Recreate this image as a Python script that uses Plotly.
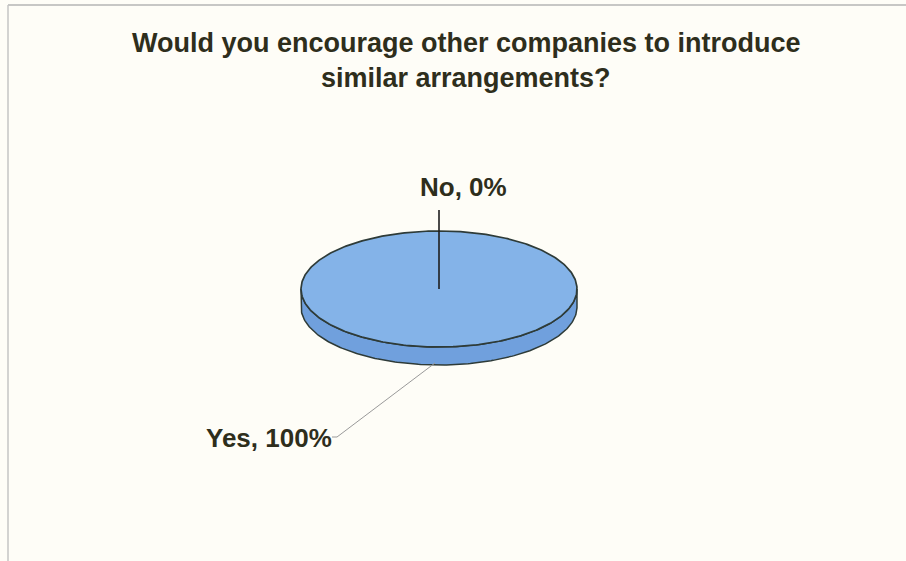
import numpy as np
import plotly.graph_objects as go

# ---- data ----
categories = ["Yes", "No"]
values = [100, 0]
title_lines = ["Would you encourage other companies to introduce", "similar arrangements?"]

# ---- styling / layout constants ----
W, H = 906, 561
CX, CY = 439, 289          # centre of top face (pixel coordinates)
RX, RY = 138, 58           # radii of top face
DEPTH = 18                 # thickness of the 3D disc
TOP_COL = "#84b3e8"
SIDE_COL = "#70a0dd"
EDGE_COL = "#2e3b38"
TEXT_COL = "#2e2e1c"
FONT = "Liberation Sans, Arial, sans-serif"

total = float(sum(values))
fracs = [v / total for v in values]
# slices start at 12 o'clock and run clockwise
order = [1, 0]
starts, ends = {}, {}
acc = 0.0
for i in order:
    starts[i] = acc * 2 * np.pi
    acc += fracs[i]
    ends[i] = acc * 2 * np.pi


def rim(theta, dy=0.0):
    return CX + RX * np.sin(theta), CY - RY * np.cos(theta) + dy


fig = go.Figure()

# side walls (visible front half, angles between 90 and 270 deg)
for i in order:
    a0, a1 = starts[i], ends[i]
    if a1 - a0 <= 0:
        continue
    lo, hi = max(a0, np.pi / 2), min(a1, 3 * np.pi / 2)
    if hi <= lo:
        continue
    t = np.linspace(lo, hi, 200)
    xt, yt = rim(t)
    xb, yb = rim(t[::-1], DEPTH)
    fig.add_trace(go.Scatter(
        x=np.concatenate([xt, xb, xt[:1]]), y=np.concatenate([yt, yb, yt[:1]]),
        mode="lines", fill="toself", fillcolor=SIDE_COL,
        line=dict(color=EDGE_COL, width=1.5), hoverinfo="skip", showlegend=False))

# top faces
for i in order:
    a0, a1 = starts[i], ends[i]
    if a1 - a0 <= 0:
        continue
    t = np.linspace(a0, a1, 400)
    xt, yt = rim(t)
    if a1 - a0 < 2 * np.pi - 1e-9:
        xs = np.concatenate([[CX], xt, [CX]])
        ys = np.concatenate([[CY], yt, [CY]])
    else:
        xs, ys = xt, yt
    fig.add_trace(go.Scatter(
        x=xs, y=ys, mode="lines", fill="toself", fillcolor=TOP_COL,
        line=dict(color=EDGE_COL, width=1.7), hoverinfo="skip", showlegend=False,
        name=categories[i]))

# data labels with leader lines
label_pos = {0: (269, 438), 1: (463, 187)}
for i in order:
    mid = (starts[i] + ends[i]) / 2
    lx, ly = label_pos[i]
    text = f"{categories[i]}, {values[i]:.0f}%"
    if values[i] == 0:
        # zero slice: leader from centre straight up
        fig.add_trace(go.Scatter(x=[CX, CX], y=[CY, ly + 23], mode="lines",
                                 line=dict(color="#1e1e1e", width=1.6),
                                 hoverinfo="skip", showlegend=False))
    else:
        ax_, ay_ = rim(mid, DEPTH)
        fig.add_trace(go.Scatter(x=[ax_ - 4, lx + 68, lx + 63], y=[ay_ - 2, ly - 1, ly - 1],
                                 mode="lines", line=dict(color="#9a9a9a", width=1),
                                 hoverinfo="skip", showlegend=False))
    fig.add_annotation(x=lx, y=ly, text=f"<b>{text}</b>", showarrow=False,
                       font=dict(family=FONT, size=26, color=TEXT_COL),
                       xanchor="center", yanchor="middle")

# title
for k, line in enumerate(title_lines):
    fig.add_annotation(x=466, y=43 + 35 * k, text=f"<b>{line}</b>", showarrow=False,
                       font=dict(family=FONT, size=27, color=TEXT_COL),
                       xanchor="center", yanchor="middle")

# chart-area frame
fig.add_shape(type="line", xref="x", yref="y", x0=8, y0=5, x1=W + 5, y1=5,
              line=dict(color="#b5b5b5", width=1.5))
fig.add_shape(type="line", xref="x", yref="y", x0=8, y0=5, x1=8, y1=H + 5,
              line=dict(color="#c4c4c4", width=1.5))

fig.update_layout(
    width=W, height=H, margin=dict(l=0, r=0, t=0, b=0),
    paper_bgcolor="#fefdf7", plot_bgcolor="#fefdf7",
    xaxis=dict(range=[0, W], visible=False, fixedrange=True),
    yaxis=dict(range=[H, 0], visible=False, fixedrange=True),
    showlegend=False,
)

fig.write_html(
    "out.html", config={"displayModeBar": False},
    post_script=("document.documentElement.style.margin='0';"
                 "document.documentElement.style.overflow='hidden';"
                 "document.body.style.margin='0';document.body.style.overflow='hidden';"
                 "document.body.style.background='#fefdf7';"))
